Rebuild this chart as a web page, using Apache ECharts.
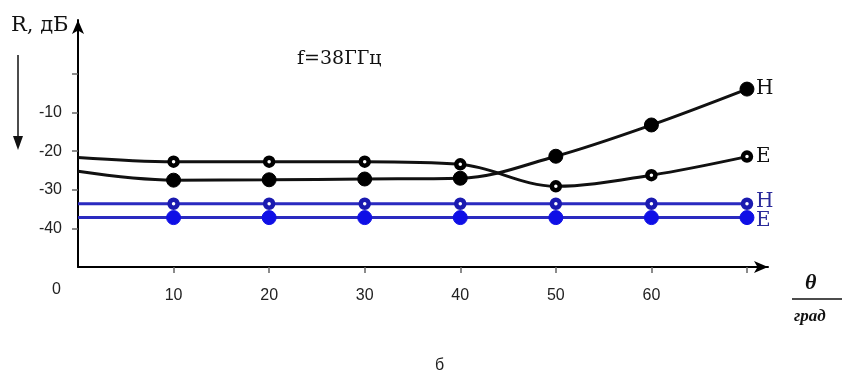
<!DOCTYPE html>
<html>
<head>
<meta charset="utf-8">
<script src="https://cdn.jsdelivr.net/npm/echarts@6/dist/echarts.min.js"></script>
<style>html,body{margin:0;padding:0;background:#fff}#chart{width:842px;height:380px}</style>
</head>
<body>
<div id="chart"></div>
<script>
// Incidence angle, degrees
const angles = [0, 10, 20, 30, 40, 50, 60, 70];
// Reflection R, dB, f = 38 GHz
const blackH = [-25.2, -27.5, -27.4, -27.2, -27.0, -21.3, -13.2, -3.9];
const blackE = [-21.6, -22.7, -22.7, -22.7, -23.4, -29.1, -26.2, -21.4];
const blueH = [-33.6, -33.6, -33.6, -33.6, -33.6, -33.6, -33.6, -33.6];
const blueE = [-37.2, -37.2, -37.2, -37.2, -37.2, -37.2, -37.2, -37.2];
// Axis ticks and labels
const yTicks = [-40, -30, -20, -10, 0];
const yLabels = [-40, -30, -20, -10];
const xTicks = [10, 20, 30, 40, 50, 60, 70];
const xLabels = [10, 20, 30, 40, 50, 60];
const originLabel = '0';

const serif = 'DejaVu Serif';
const sans = 'Liberation Sans';

function pts(vals) {
  return angles.map((a, i) => i === 0 ? { value: [a, vals[i]], symbol: 'none' } : [a, vals[i]]);
}

function mk(name, vals, opts) {
  return {
    name, type: 'line', data: pts(vals), smooth: opts.smooth || false,
    symbol: 'circle', symbolSize: opts.size,
    lineStyle: { color: opts.line, width: opts.width },
    itemStyle: opts.open
      ? { color: '#fff', borderColor: opts.mark, borderWidth: 4.5 }
      : { color: opts.mark, borderColor: opts.mark, borderWidth: 1 },
    endLabel: { show: true, formatter: opts.label, color: opts.labelColor, fontFamily: serif, fontSize: 20, distance: 9, offset: [0, opts.dy || 0] },
    emphasis: { disabled: true }, animation: false, z: opts.z || 2
  };
}

const chart = echarts.init(document.getElementById('chart'), null, { renderer: 'canvas' });
chart.setOption({
  animation: false,
  grid: { left: 78, top: 20, width: 690, height: 247 },
  xAxis: {
    type: 'value', min: 0, max: 72.2,
    axisLine: { show: true, onZero: false, symbol: ['none', 'arrow'], symbolSize: [9, 14], lineStyle: { color: '#000', width: 2 } },
    axisTick: { show: true, customValues: xTicks, length: 6, lineStyle: { color: '#666', width: 1.5 } },
    axisLabel: { customValues: xLabels, margin: 21, color: '#222', fontFamily: sans, fontSize: 16 },
    splitLine: { show: false }
  },
  yAxis: {
    type: 'value', min: -50, max: 14,
    axisLine: { show: true, onZero: false, symbol: ['none', 'arrow'], symbolSize: [9, 14], lineStyle: { color: '#000', width: 2 } },
    axisTick: { show: true, customValues: yTicks, length: 6, lineStyle: { color: '#666', width: 1.5 } },
    axisLabel: { customValues: yLabels, margin: 16, color: '#222', fontFamily: sans, fontSize: 16 },
    splitLine: { show: false }
  },
  series: [
    mk('H', blackH, { smooth: 0.35, size: 14, line: '#111', mark: '#000', width: 3, label: 'H', labelColor: '#111' }),
    mk('E', blackE, { smooth: 0.35, size: 8, open: true, line: '#111', mark: '#000', width: 3, label: 'E', labelColor: '#111' }),
    mk('H2', blueH, { size: 8, open: true, line: '#2a2ac0', mark: '#1a1ab0', width: 3, label: 'H', labelColor: '#2a2a9a', dy: -2 }),
    mk('E2', blueE, { size: 14, line: '#2a2ac0', mark: '#0f0fe6', width: 3, label: 'E', labelColor: '#2a2a9a', dy: 3 })
  ],
  graphic: [
    { type: 'text', left: 11, top: 15, style: { text: 'R, дБ', font: '21px "DejaVu Serif"', fill: '#111' } },
    { type: 'line', shape: { x1: 18, y1: 55, x2: 18, y2: 138 }, style: { stroke: '#111', lineWidth: 1.5 } },
    { type: 'polygon', shape: { points: [[13, 136], [23, 136], [18, 150]] }, style: { fill: '#111' } },
    { type: 'text', left: 297, top: 50, style: { text: 'f=38ГГц', font: '19px "DejaVu Serif"', fill: '#111' } },
    { type: 'text', left: 52, top: 282, style: { text: originLabel, font: '16px "Liberation Sans"', fill: '#222' } },
    { type: 'text', left: 805, top: 272, style: { text: 'θ', font: 'italic bold 22px "Liberation Serif"', fill: '#111' } },
    { type: 'line', shape: { x1: 792, y1: 299, x2: 842, y2: 299 }, style: { stroke: '#111', lineWidth: 1.5 } },
    { type: 'text', left: 794, top: 308, style: { text: 'град', font: 'italic bold 17px "Liberation Serif"', fill: '#111' } },
    { type: 'text', left: 435, top: 358, style: { text: 'б', font: '16px "Liberation Sans"', fill: '#222' } }
  ]
});
</script>
</body>
</html>
